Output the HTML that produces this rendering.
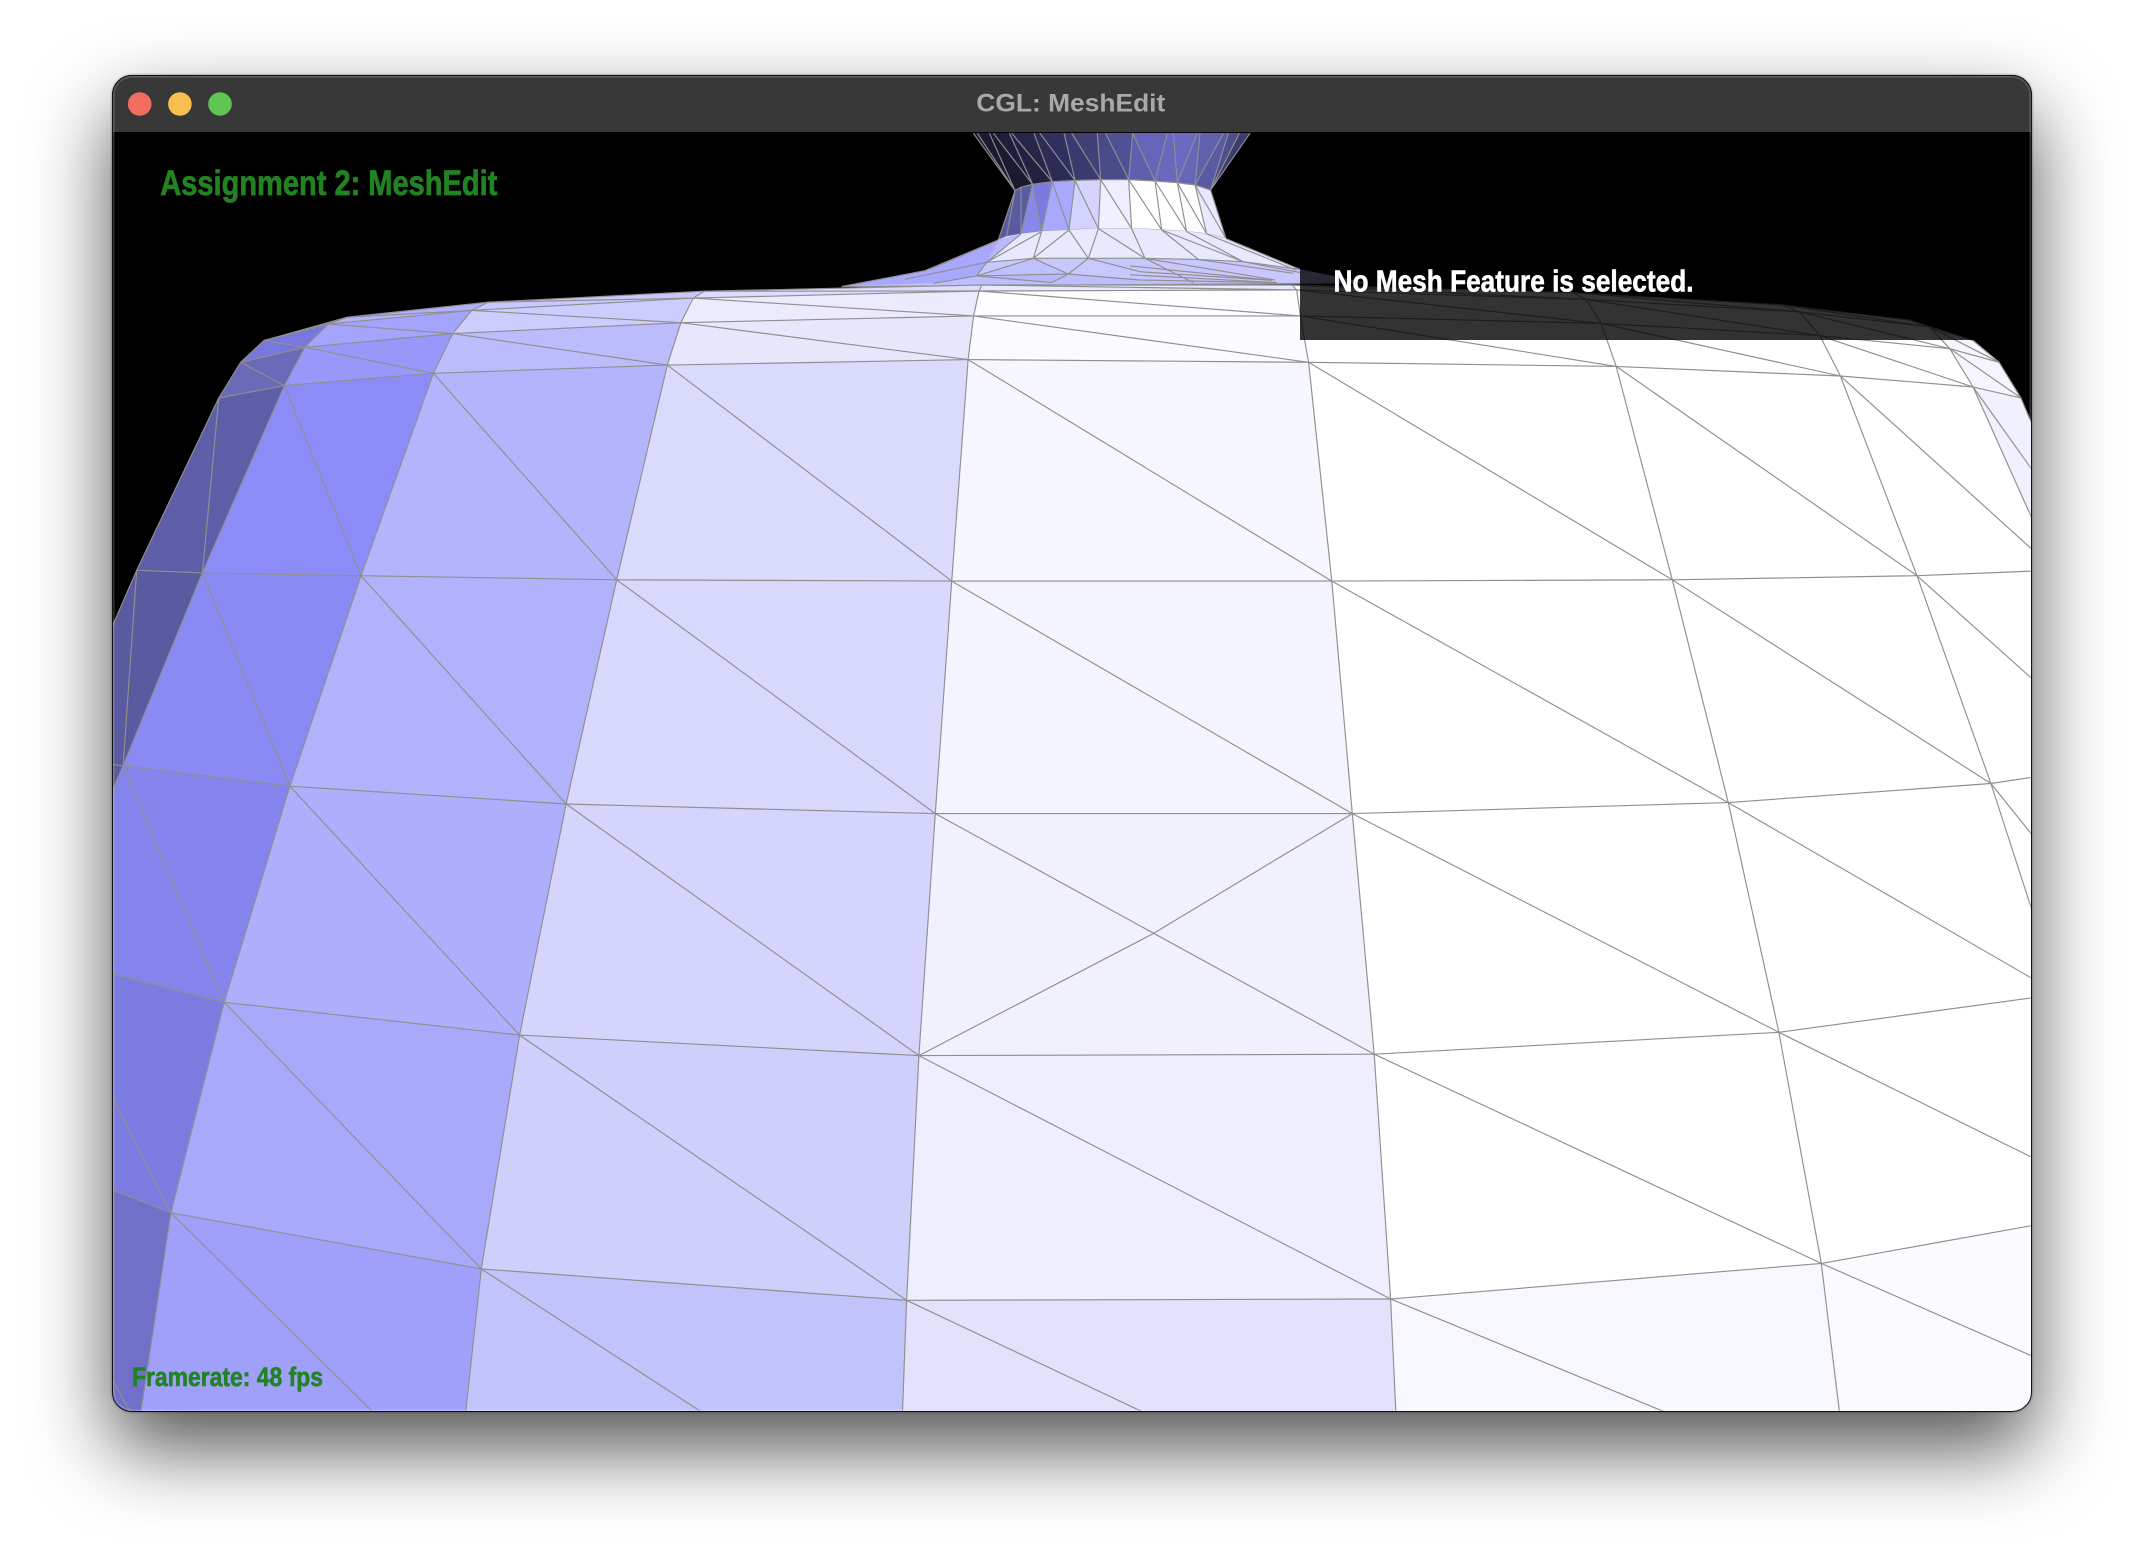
<!DOCTYPE html>
<html lang="en">
<head>
<meta charset="utf-8">
<title>CGL: MeshEdit</title>
<style>
html,body{margin:0;padding:0;width:2144px;height:1560px;background:#fff;overflow:hidden}
#window{position:absolute;left:112px;top:75px;width:1920px;height:1337px;border-radius:20px;overflow:hidden;background:#000}
#shadow{position:absolute;left:112px;top:75px;width:1920px;height:1337px;border-radius:20px;box-shadow:0 36px 80px rgba(0,0,0,.68),0 0 2px rgba(0,0,0,.5)}
#frame{position:absolute;left:112px;top:75px;width:1920px;height:1337px;border-radius:20px;box-sizing:border-box;border:1px solid #111;box-shadow:inset 0 0 0 1.5px rgba(255,255,255,.2);pointer-events:none}
svg{position:absolute;left:0;top:0;display:block}
text{font-family:"Liberation Sans Narrow","Liberation Sans",sans-serif;font-weight:bold}
</style>
</head>
<body>
<div id="shadow"></div>
<div id="window">
<svg id="scene" width="1920" height="1337" viewBox="0 0 1920 1337" xmlns="http://www.w3.org/2000/svg">
  <g id="neck"></g>
  <g id="flare"></g>
  <g id="body-faces"></g>
  <g id="body-edges"></g>
  <rect x="1188" y="178" width="740" height="87" fill="rgba(0,0,0,.8)"/>
  <text x="48.3" y="120" font-size="35" fill="#228322" stroke="#228322" stroke-width="0.7" textLength="337" lengthAdjust="spacingAndGlyphs">Assignment 2: MeshEdit</text>
  <text x="1221.5" y="216.7" font-size="31" fill="#ffffff" stroke="#ffffff" stroke-width="0.6" textLength="360" lengthAdjust="spacingAndGlyphs">No Mesh Feature is selected.</text>
  <text x="20" y="1311" font-size="27" fill="#228322" stroke="#228322" stroke-width="0.6" textLength="191" lengthAdjust="spacingAndGlyphs">Framerate: 48 fps</text>
  <rect x="0" y="0" width="1920" height="57" fill="#383838"/>
  <circle cx="27.7" cy="29" r="11.8" fill="#f26d60"/>
  <circle cx="67.9" cy="29" r="11.8" fill="#f6bf4f"/>
  <circle cx="108" cy="29" r="11.8" fill="#61c554"/>
  <text x="864.3" y="36.7" font-size="25" fill="#a9a9a9" textLength="189" lengthAdjust="spacingAndGlyphs" style="font-family:'Liberation Sans',sans-serif">CGL: MeshEdit</text>
</svg>
</div>
<div id="frame"></div>
<script>
// Mesh vertices, rows top to bottom, columns left to right.
const bodyRow0 = [[193,249],[254,232],[357,221],[515,213],[718,208.4],[945,208.4],[1150,214],[1303,223],[1396,234],[1443,249]];
const bodyRow1 = [[193,249],[240,237],[345,227],[507,218],[716,212.8],[948.3,212],[1160,219],[1316,228],[1411,239],[1443,249]];
const bodyRow2 = [[176,265],[223,254],[331,244],[498,236],[712,231],[951,231],[1171,236.5],[1331,245.5],[1426,255],[1462,265]];
const bodyRow3 = [[160,291],[208,282],[317,273],[488,267],[708,263],[957,265],[1182,268],[1346,275],[1443,283],[1478,291]];
const bodyRow4 = [[100,417],[148,419],[264,421],[451,424],[696,425],[974,425],[1223,424],[1402,421],[1503,417],[1520,391]];
const bodyRow5 = [[40,555],[90,560],[212,575],[414,588],[684,595],[989,595],[1264,587],[1456,573],[1555,558],null];
const bodyRow6 = [[0,690],[30,699],[164,733],[380,757],[672,772],[1005,771],[1301,755],[1506,727],[1570,715],null];
const bodyRow7 = [null,[-20,830],[125,887],[352,928],[663,951],[1017,950],[1332,924],[1560,883],null,null];
const bodyRow8 = [null,[-10,1100],[101.5,1043],[334,1093],[656.6,1126],[1025,1122],[1352,1088],[1580,1033],null,null];
const bodyRows = [bodyRow0,bodyRow1,bodyRow2,bodyRow3,bodyRow4,bodyRow5,bodyRow6,bodyRow7,bodyRow8];

const shadeRow0 = ['#7878dc','#b0b0fe','#c8c8fe','#dcdcfe','#e8e8ff','#ffffff','#ffffff','#ffffff','#f5f5ff'];
const shadeRow1 = ['#7878dc','#a4a4fc','#ccccfe','#ecebfe','#fdfdff','#ffffff','#ffffff','#ffffff','#f6f6ff'];
const shadeRow2 = ['#6a6ab8','#9898fa','#bcbcfc','#e6e6fd','#fbfbff','#ffffff','#ffffff','#ffffff','#f5f5ff'];
const shadeRow3 = ['#5e5ea8','#8c8cf8','#b4b4fc','#dadafd','#f6f6fe','#ffffff','#ffffff','#ffffff','#f0f0fe'];
const shadeRow4 = ['#5a5aa0','#8a8af4','#b1b1fc','#d8d8fd','#f4f4fe','#ffffff','#ffffff','#ffffff',null];
const shadeRow5 = ['#5a5aa0','#8484ec','#aeaefc','#d4d4fc','#f1f1fe','#ffffff','#ffffff','#ffffff',null];
const shadeRow6 = [null,'#7c7ce0','#a9a9fb','#cfcffc','#eeeefe','#ffffff','#ffffff',null,null];
const shadeRow7 = [null,'#7070c8','#a0a0fa','#c3c3fb','#e2e2fc','#f7f7fe','#fbfbff',null,null];
const bodyShades = [shadeRow0,shadeRow1,shadeRow2,shadeRow3,shadeRow4,shadeRow5,shadeRow6,shadeRow7];

const extraEdge = [[989,595],[843,683],[672,772]];

// Named neck and flare vertices.
const neckVerts = {
  t0:[711.9,97.5],t1:[714.8,97.5],t2:[723.6,97.5],t3:[726.5,97.5],t4:[738.2,97.5],t5:[739.9,97.5],t6:[756.2,97.5],
  t7:[760.6,97.5],t8:[778.2,97.5],t9:[783.8,97.5],t10:[802.5,97.5],t11:[808.6,97.5],t12:[828.4,97.5],t13:[853.7,97.5],
  t14:[858.1,97.5],t15:[875.7,97.5],t16:[877.6,97.5],t17:[894.7,97.5],t18:[898.3,97.5],t19:[906.4,97.5],t20:[914.2,97.5],
  b0:[742.3,139.4],bx:[746.7,137],b1:[755.2,134.8],b2:[769.6,132.9],b3:[786.2,131.9],b4:[805,131.4],b5:[825.5,131.4],
  b6:[844.7,132.4],b7:[861,133.6],b8:[874,135.3],b9:[885.4,139],
  c0:[730.1,175.5],c1:[736.2,173.1],c2:[746.7,171.1],c3:[761.8,169.4],c4:[781.8,168.2],c5:[803.3,167.2],c6:[827.6,167.2],
  c7:[849.6,168.2],c8:[867.9,169.4],c9:[882.5,171.1],c10:[896.6,174.5],
  p1:[721.6,191.8],p2:[755.7,188.9],p3:[795.9,188.9],p4:[837.4,188.9],p5:[876.4,189.7],p6:[909.3,191.4],
  q0:[714.3,201.8],q1:[781.3,200.4],q2:[769.1,206.7],
  s1:[676.5,198],s2:[615.5,209.6],s3:[950.7,197],s4:[1000,207],s5:[930,189],s6:[661.9,204.3],s7:[682.6,207.2],s8:[680.1,197],
  e1:[833.7,204.8],e2:[833.7,198.7],e3:[933.7,206.7],e4:[826.4,201],e5:[872.7,206.7],e6:[932.4,204.8],e7:[945.9,199.9],e8:[950.7,199.4],e9:[948,197.5],e10:[930,205],e11:[826.4,194.5]
};

const coneFan = ['t0 b0','t1 b0','t2 b0','t3 b1','t4 b1','t5 b2','t6 b2','t7 b3','t8 b3','t9 b4','t10 b4','t11 b5','t12 b5','t12 b6','t13 b6','t14 b7','t15 b7','t16 b8','t17 b8','t18 b9','t19 b9','t20 b9'];
const coneShades = ['#1a1a30','#1a1a30','#1a1a30','#1e1e3c','#222240','#26264a','#2c2c55','#303060','#3a3a6e','#414178','#4a4a88','#505094','#5f5fb0','#6464b8','#6868bc','#6a6ac0','#6666b8','#6060ae','#5a5aa4','#4e4e8e','#3c3c70'];

const collarFaceNames = ['b0 bx c2 c0','bx b1 c2','b1 c3 c2','b1 b2 c3','b2 c4 c3','b2 b3 c4','b3 c5 c4','b3 b4 c5','b4 c6 c5','b4 b5 c6','b5 c7 c6','b5 b6 c7','b6 c8 c7','b6 b7 c8','b7 c9 c8','b7 b8 c9','b8 c10 c9','b8 b9 c10'];
const collarShades = ['#5a5aa0','#5a5aa0','#8888ea','#7a7ae0','#a8a8ff','#a8a8ff','#d2d2ff','#d4d4ff','#f0f0ff','#eeeeff','#ffffff','#ffffff','#ffffff','#ffffff','#fcfcff','#ffffff','#e8e8ff','#e8e8ff'];
const collarEdges = ['b0 bx b1 b2 b3 b4 b5 b6 b7 b8 b9','c0 c1 c2 c3 c4 c5 c6 c7 c8 c9 c10','b0 c0','b0 c1','bx c2','b1 c2','b1 c3','b2 c3','b2 c4','b3 c4','b3 c5','b4 c5','b4 c6','b5 c6','b5 c7','b6 c7','b6 c8','b7 c8','b7 c9','b8 c9','b8 c10','b9 c10'];

const flareFaceNames = [
  'c0 c1 c2 c3 c4 c5 c6 c7 c8 c9 c10 s3 p6 p5 p4 p3 p2 p1',
  's1 p1 p2 p3 p4 p5 p6 s3 s4 s2',
  'c0 c2 p1 s1',
  's2 s1 c0 p1 q0 s7',
  'p1 p2 q0',
  'p2 q1 q0',
  'q0 q1 q2',
  's7 q0 q2 q1 e1 e3 s4 s2'
];
const flareShades = ['#e8e8fe','#c8c8ff','#b8b8fe','#a8a8ff','#c8c8ff','#c0c0ff','#b8b8fe','#bebefe'];
const flareEdges = [
  'p1 p2 p3 p4 p5 p6 s3','s6 p1','s8 c0','s7 q0','p1 q0','q0 p2','p2 q1','p3 q1','q1 q2','q0 q2','q0 q1','q1 e1 e3','p3 e2 e10','e4 e3','p4 e5','p4 e6','p5 e7','p6 e8','e11 e10',
  'c2 p1','c3 p1','c3 p2','c4 p2','c4 p3','c5 p3','c5 p4','c6 p4','c7 p5','c7 p6','c8 p6','c9 e9','c10 s3','c0 s1 s2','s2 s4'
];

// Axis functions: reference-frame coordinates to window pixels.
const SCALE = 2144 / 1568;
function axisX(v){ return v * SCALE - 112; }
function axisY(v){ return v * SCALE - 75; }
function pointText(p){ return axisX(p[0]).toFixed(1) + ',' + axisY(p[1]).toFixed(1); }
function named(list){ return list.split(' ').map(function(n){ return neckVerts[n]; }); }

const NS = 'http://www.w3.org/2000/svg';
const EDGE = '#8f8f8f';

function addFace(parent, pts, fill){
  const el = document.createElementNS(NS, 'polygon');
  
  
  el.setAttribute('points', pts.map(pointText).join(' '));
  el.setAttribute('fill', fill);
  el.setAttribute('stroke', fill);
  el.setAttribute('stroke-width', '0.6');
  parent.appendChild(el);
}
function addEdge(parent, pts){
  const el = document.createElementNS(NS, 'polyline');
  
  
  el.setAttribute('points', pts.map(pointText).join(' '));
  el.setAttribute('fill', 'none');
  el.setAttribute('stroke', EDGE);
  el.setAttribute('stroke-width', '1.15');
  parent.appendChild(el);
}

const neckGroup = document.getElementById('neck');
coneShades.forEach(function(fill, i){
  const a = named(coneFan[i]), b = named(coneFan[i+1]);
  addFace(neckGroup, [a[0], b[0], b[1], a[1]], fill);
});
collarShades.forEach(function(fill, i){
  addFace(neckGroup, named(collarFaceNames[i]), fill);
});
coneFan.forEach(function(edge){
  addEdge(neckGroup, named(edge));
});
collarEdges.forEach(function(edge){
  addEdge(neckGroup, named(edge));
});

const flareGroup = document.getElementById('flare');
flareShades.forEach(function(fill, i){
  addFace(flareGroup, named(flareFaceNames[i]), fill);
});
flareEdges.forEach(function(edge){
  addEdge(flareGroup, named(edge));
});

const faceGroup = document.getElementById('body-faces');
const edgeGroup = document.getElementById('body-edges');
bodyShades.forEach(function(row, r){
  row.forEach(function(fill, c){
    const a = bodyRows[r][c], b = bodyRows[r][c+1], d = bodyRows[r+1][c+1], e = bodyRows[r+1][c];
    if (fill && a && b && d && e) addFace(faceGroup, [a, b, d, e], fill);
  });
});
bodyRows.forEach(function(row, r){
  row.forEach(function(p, c){
    if (!p) return;
    const right = row[c+1];
    if (right) addEdge(edgeGroup, [p, right]);
    const next = bodyRows[r+1];
    if (next && next[c]) addEdge(edgeGroup, [p, next[c]]);
    if (next && next[c+1]) addEdge(edgeGroup, [p, next[c+1]]);
  });
});
addEdge(edgeGroup, extraEdge);
</script>
</body>
</html>
